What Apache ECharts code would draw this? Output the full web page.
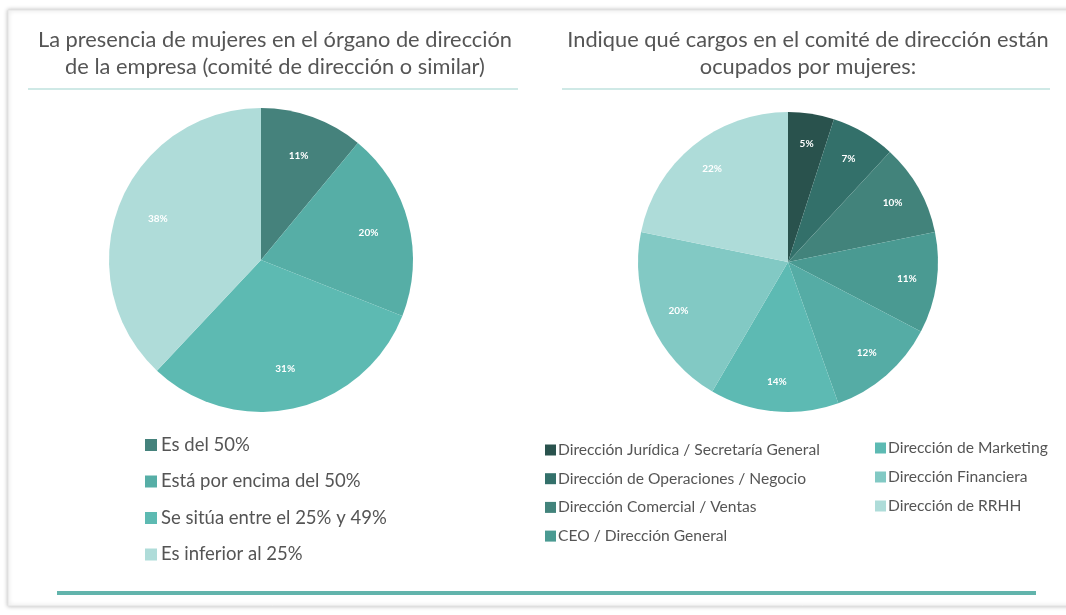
<!DOCTYPE html>
<html><head><meta charset="utf-8">
<script src="https://cdn.jsdelivr.net/npm/echarts@6/dist/echarts.min.js"></script>
<style>html,body{margin:0;padding:0;background:#fff}#c{width:1066px;height:615px}</style>
</head><body><div id="c"></div>
<script>
// ---- data ----
const leftTitle = 'La presencia de mujeres en el órgano de dirección\nde la empresa (comité de dirección o similar)';
const rightTitle = 'Indique qué cargos en el comité de dirección están\nocupados por mujeres:';

const leftCategories = ['Es del 50%', 'Está por encima del 50%', 'Se sitúa entre el 25% y 49%', 'Es inferior al 25%'];
const leftValues = [11, 20, 31, 38];
const leftColors = ['#45827c', '#56aea6', '#5dbab2', '#afdcd9'];

const rightCategories = ['Dirección Jurídica / Secretaría General', 'Dirección de Operaciones / Negocio', 'Dirección Comercial / Ventas', 'CEO / Dirección General', 'Otras', 'Dirección de Marketing', 'Dirección Financiera', 'Dirección de RRHH'];
const rightValues = [5, 7, 10, 11, 12, 14, 20, 22];
const rightColors = ['#29524d', '#33706a', '#42837b', '#4a9a92', '#55aca5', '#5dbab3', '#82c9c4', '#aedcd9'];
const rightLegendCol1 = ['Dirección Jurídica / Secretaría General', 'Dirección de Operaciones / Negocio', 'Dirección Comercial / Ventas', 'CEO / Dirección General'];
const rightLegendCol2 = ['Dirección de Marketing', 'Dirección Financiera', 'Dirección de RRHH'];

// ---- build ----
const FONT = 'Lato, "Open Sans", sans-serif';
const TXT = '#555555';
function pieData(names, values, colors) {
  return names.map((n, i) => ({ name: n, value: values[i], itemStyle: { color: colors[i] } }));
}
function labelData(names, values) {
  return names.map((n, i) => ({ name: n, value: values[i] }));
}
const labelStyle = { show: true, position: 'inside', formatter: '{c}%', color: '#fff', fontSize: 10, fontWeight: 'bold', fontFamily: FONT };

const chart = echarts.init(document.getElementById('c'), null, { renderer: 'canvas' });
chart.setOption({
  backgroundColor: '#ffffff',
  animation: false,
  graphic: [
    { type: 'rect', z: 0, shape: { x: 8, y: 10, width: 1110, height: 596 },
      style: { fill: '#fff', stroke: '#e3e3e3', lineWidth: 1, shadowBlur: 4, shadowColor: 'rgba(0,0,0,0.25)' } },
    { type: 'text', z: 1, x: 275, y: 26, style: { text: leftTitle, align: 'center', verticalAlign: 'top', fontSize: 21.8, lineHeight: 27, fontFamily: FONT, fill: TXT } },
    { type: 'text', z: 1, x: 808, y: 26, style: { text: rightTitle, align: 'center', verticalAlign: 'top', fontSize: 21.8, lineHeight: 27, fontFamily: FONT, fill: TXT } },
    { type: 'line', z: 1, shape: { x1: 28, y1: 89, x2: 518, y2: 89 }, style: { stroke: '#bfe2de', lineWidth: 1.5 } },
    { type: 'line', z: 1, shape: { x1: 562, y1: 89, x2: 1050, y2: 89 }, style: { stroke: '#bfe2de', lineWidth: 1.5 } },
    { type: 'rect', z: 1, shape: { x: 57, y: 591, width: 979, height: 4 }, style: { fill: '#62b4ac' } }
  ],
  legend: [
    { data: leftCategories, orient: 'vertical', left: 145, top: 435.5, padding: 0, itemGap: 17.5,
      itemWidth: 12, itemHeight: 12, icon: 'rect', selectedMode: false,
      textStyle: { fontSize: 18.5, lineHeight: 17, color: TXT, fontFamily: FONT, padding: [0, 0, 0, -1] } },
    { data: rightLegendCol1, orient: 'vertical', left: 545, top: 442, padding: 0, itemGap: 12.7,
      itemWidth: 11, itemHeight: 11, icon: 'rect', selectedMode: false,
      textStyle: { fontSize: 15.6, lineHeight: 14, color: TXT, fontFamily: FONT, padding: [0, 0, 0, -3] } },
    { data: rightLegendCol2, orient: 'vertical', left: 875, top: 440, padding: 0, itemGap: 13,
      itemWidth: 11, itemHeight: 11, icon: 'rect', selectedMode: false,
      textStyle: { fontSize: 15.6, lineHeight: 14, color: TXT, fontFamily: FONT, padding: [0, 0, 0, -3] } }
  ],
  series: [
    { type: 'pie', center: [261, 260], radius: [0, 152], startAngle: 90, silent: true,
      label: { show: false }, labelLine: { show: false }, data: pieData(leftCategories, leftValues, leftColors) },
    { type: 'pie', center: [788, 262], radius: [0, 150], startAngle: 90, silent: true,
      label: { show: false }, labelLine: { show: false }, data: pieData(rightCategories, rightValues, rightColors) },
    { type: 'pie', center: [261, 260], radius: [64, 152], startAngle: 90, silent: true, z: 3,
      itemStyle: { color: 'rgba(0,0,0,0)' }, label: labelStyle, labelLine: { show: false },
      data: labelData(leftCategories, leftValues) },
    { type: 'pie', center: [788, 262], radius: [84, 150], startAngle: 90, silent: true, z: 3,
      itemStyle: { color: 'rgba(0,0,0,0)' }, label: labelStyle, labelLine: { show: false },
      data: labelData(rightCategories, rightValues) }
  ]
});
</script></body></html>
